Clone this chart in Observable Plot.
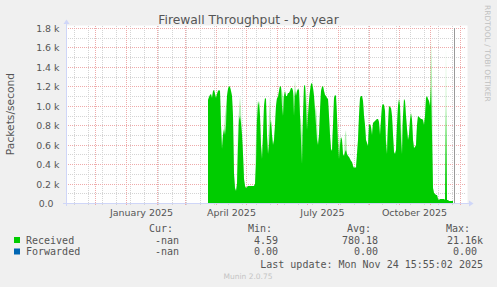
<!DOCTYPE html>
<html><head><meta charset="utf-8">
<script src="https://cdn.jsdelivr.net/npm/d3@7"></script>
<script src="https://cdn.jsdelivr.net/npm/@observablehq/plot@0.6"></script>
<style>
html,body{margin:0;padding:0;background:#f0f0f0;}
#chart{width:497px;height:287px;overflow:hidden;}
</style></head><body><div id="chart"></div>
<script>
const title = "Firewall Throughput - by year";
const yLabel = "Packets/second";
const watermark = "RRDTOOL / TOBI OETIKER";
const footer = "Munin 2.0.75";
const lastUpdate = "Last update: Mon Nov 24 15:55:02 2025";
const nowTime = "2025-11-24T15:55:02Z";
const xDomain = ["2024-11-01T17:00:00Z", "2025-12-06T17:00:00Z"];
const yDomain = [0, 1800];
const yTicks = [0, 200, 400, 600, 800, 1000, 1200, 1400, 1600, 1800];
const yTickLabels = ["0.0\u00a0\u00a0", "0.2 k", "0.4 k", "0.6 k", "0.8 k", "1.0 k", "1.2 k", "1.4 k", "1.6 k", "1.8 k"];
const yMinorTicks = [100, 300, 500, 700, 900, 1100, 1300, 1500, 1700];
const xTickDates = ["2025-01-16", "2025-04-16", "2025-07-16", "2025-10-16"];
const xTickLabels = ["January 2025", "April 2025", "July 2025", "October 2025"];
const minorGridStart = "2024-11-10";

const firstDay = "2025-03-24";
const received = [
  1060,1090,1110,1120,1080,1150,1165,1120,1080,1120,
  1150,1165,1150,800,560,700,760,700,800,1100,
  1170,1200,1190,1150,1100,900,300,150,120,200,
  600,850,900,820,700,500,250,180,150,165,
  170,180,175,170,180,175,170,200,400,850,
  1000,1050,900,600,450,700,1000,1080,1070,700,
  500,600,800,850,700,600,650,800,1000,1080,
  1090,1150,1200,1190,1000,900,1100,1150,1100,1100,
  1130,1130,1150,1180,1183,1150,900,1150,1100,1150,
  1174,1160,900,650,400,900,1200,1217,1000,750,
  900,1050,1150,1220,1234,1180,1100,950,800,650,
  600,700,950,1150,1190,1200,1150,1110,1100,1080,
  1070,900,700,560,530,800,1080,1110,1100,900,
  600,450,600,680,650,500,480,520,550,500,
  480,470,450,430,420,380,360,370,360,500,
  650,900,1080,1100,1097,1050,900,800,650,620,
  590,800,810,780,700,820,830,840,850,860,
  860,830,700,850,1000,1014,1010,950,600,500,
  800,1000,990,980,900,700,520,500,550,800,
  1000,1066,1000,650,500,900,1066,1050,900,760,
  650,700,850,929,850,650,570,580,600,800,
  895,880,870,865,860,850,800,900,1080,1100,
  1070,1050,1000,1200,700,150,100,90,85,80,
  40,35,40,45,45,45,40,35,1000,30,
  28,25,25,22,20,20
];
const peakDates = ["2025-04-10","2025-04-11","2025-04-23","2025-04-24","2025-04-25","2025-04-26",
  "2025-05-11","2025-05-12","2025-05-24","2025-05-25","2025-06-06","2025-06-07",
  "2025-06-18","2025-06-19","2025-06-25","2025-06-26","2025-06-30","2025-07-01",
  "2025-07-10","2025-07-11","2025-08-02","2025-08-08","2025-08-09","2025-09-19",
  "2025-10-04","2025-11-02","2025-11-03","2025-11-17"];
const peakValues = [900,1000,800,950,1100,950,700,1050,900,1100,1150,1100,
  1100,1270,850,700,1150,1000,1000,850,700,700,750,650,800,1680,1300,1600];

const seriesNames = ["Received", "Forwarded"];
const seriesColors = ["#00cc00", "#0066b3"];
const statHeads = ["Cur:", "Min:", "Avg:", "Max:"];
const curVals = ["-nan", "-nan"];
const minVals = ["4.59", "0.00"];
const avgVals = ["780.18", "0.00"];
const maxVals = ["21.16k", "0.00\u00a0"];

// build table
const fmt = d3.utcFormat("%Y-%m-%d");
const peakMap = new Map(peakDates.map((d, i) => [d, peakValues[i]]));
const start = new Date(firstDay);
const rows = received.map((v, i) => {
  const date = d3.utcDay.offset(start, i);
  const p = peakMap.get(fmt(date));
  return {date, value: v, peak: p != null ? Math.max(p, v) : v};
});
const xs0 = new Date(xDomain[0]), xs1 = new Date(xDomain[1]);
const majorX = d3.utcMonth.range(xs0, xs1);
const minorX = d3.utcDay.range(new Date(minorGridStart), xs1, 14);
const yLabelMap = new Map(yTicks.map((t, i) => [t, yTickLabels[i]]));
const xLabelMap = new Map(xTickDates.map((d, i) => [+new Date(d), xTickLabels[i]]));

const gridGrey = "#d4d4d4", gridRed = "#eeaaaa";
const plot = Plot.plot({
  width: 497, height: 287,
  marginLeft: 66, marginRight: 31, marginTop: 28, marginBottom: 84,
  style: {background: "#f0f0f0", fontFamily: "DejaVu Sans", fontSize: "9.4px", color: "#555", overflow: "visible"},
  x: {type: "utc", domain: [xs0, xs1], round: true},
  y: {domain: yDomain, round: true},
  marks: [
    Plot.frame({fill: "white", stroke: "none", insetTop: -3, insetRight: -1}),
    Plot.ruleY(yMinorTicks, {stroke: gridGrey, strokeDasharray: "1,1"}),
    Plot.ruleX(minorX, {x: d => d, y1: -22, y2: 1832, stroke: gridGrey, strokeDasharray: "1,1"}),
    Plot.ruleY(yTicks.slice(1), {stroke: gridRed, strokeDasharray: "1,1"}),
    Plot.ruleX(majorX, {x: d => d, y1: -22, y2: 1832, stroke: gridRed, strokeDasharray: "1,1"}),
    Plot.areaY(rows, {x: "date", y: "peak", fill: seriesColors[0], fillOpacity: 0.3}),
    Plot.areaY(rows, {x: "date", y: "value", fill: seriesColors[0]}),
    Plot.ruleX([new Date(nowTime)], {stroke: "#999", strokeWidth: 1}),
    Plot.axisY(yTicks, {tickFormat: d => yLabelMap.get(d), tickSize: 0, tickPadding: 7, fontSize: 9.4, fill: "#555", label: null}),
    Plot.axisX(xTickDates.map(d => new Date(d)), {tickFormat: d => xLabelMap.get(+d), tickSize: 0, tickPadding: 5.5, fontSize: 9.5, fill: "#555", label: null})
  ]
});
document.getElementById("chart").appendChild(plot);

const svg = d3.select(plot);
const xs = plot.scale("x"), ys = plot.scale("y");
const X0 = xs.apply(xs0), X1 = xs.apply(xs1);
const Y0 = ys.apply(0), YT = ys.apply(yDomain[1]);
const axisColor = "#cfd6f8";
const ax = svg.append("g");
ax.append("line").attr("x1", X0 - 3).attr("x2", X1 + 4).attr("y1", Y0 + 0.5).attr("y2", Y0 + 0.5).attr("stroke", axisColor);
ax.append("line").attr("x1", X0 + 0.5).attr("x2", X0 + 0.5).attr("y1", Y0 + 3).attr("y2", YT - 4).attr("stroke", axisColor);
ax.append("polygon").attr("points", `${X1+3},${Y0-2.5} ${X1+3},${Y0+3.5} ${X1+7.5},${Y0+0.5}`).attr("fill", axisColor);
ax.append("polygon").attr("points", `${X0-2.5},${YT-4} ${X0+3.5},${YT-4} ${X0+0.5},${YT-8.5}`).attr("fill", axisColor);

svg.append("text").attr("x", 248.5).attr("y", 23.5).attr("text-anchor", "middle")
  .attr("font-family", "DejaVu Sans").attr("font-size", 12.3).attr("fill", "#555").text(title);
svg.append("text").attr("transform", "translate(10,114) rotate(-90)").attr("text-anchor", "middle")
  .attr("dy", "0.35em").attr("font-family", "DejaVu Sans").attr("font-size", 10.7).attr("fill", "#555").text(yLabel);
svg.append("text").attr("transform", "translate(487.5,5) rotate(90)").attr("text-anchor", "start")
  .attr("dy", "0.35em").attr("font-family", "DejaVu Sans").attr("font-size", 7.5).attr("fill", "#c0c0c0").text(watermark);
svg.append("text").attr("x", 248).attr("y", 278.8).attr("text-anchor", "middle")
  .attr("font-family", "DejaVu Sans").attr("font-size", 7.5).attr("fill", "#c4c4c4").text(footer);

const mono = {family: "DejaVu Sans Mono", size: 10, fill: "#555"};
const leg = svg.append("g").attr("font-family", mono.family).attr("font-size", mono.size).attr("fill", mono.fill)
  .attr("text-anchor", "start").style("white-space", "pre");
const headEnds = [173, 272, 371, 470];
const valEnds = [179, 278, 378, 483];
const rowBase = [243.5, 255];
statHeads.forEach((h, i) => leg.append("text").attr("x", headEnds[i]).attr("y", 232).attr("text-anchor", "end").text(h));
const cols = [curVals, minVals, avgVals, maxVals];
seriesNames.forEach((name, r) => {
  leg.append("rect").attr("x", 14).attr("y", rowBase[r] - 6.5).attr("width", 6).attr("height", 6).attr("fill", seriesColors[r]);
  leg.append("text").attr("x", 26).attr("y", rowBase[r]).attr("text-anchor", "start").text(name);
  cols.forEach((c, i) => leg.append("text").attr("x", valEnds[i]).attr("y", rowBase[r]).attr("text-anchor", "end").text(c[r]));
});
leg.append("text").attr("x", 483).attr("y", 267.5).attr("text-anchor", "end").text(lastUpdate);
</script></body></html>
